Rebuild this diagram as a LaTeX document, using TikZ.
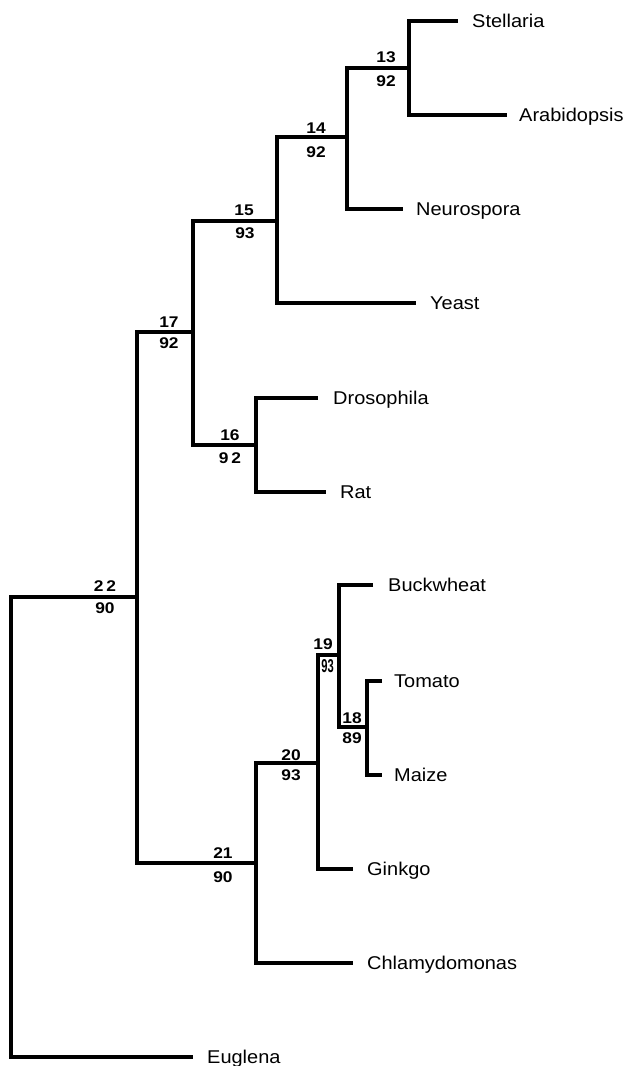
\documentclass[tikz,border=0pt]{standalone}
\usepackage{fontspec}
\setmainfont{Liberation Sans}
\newcommand\taxtext[1]{\scalebox{1.08}[1]{#1}}
\newcommand\numtext[1]{\scalebox{1.12}[1]{#1}}
\begin{document}
\begin{tikzpicture}[x=1pt,y=-1pt,
  branch/.style={line width=3.3pt, line join=miter, line cap=butt},
  taxon/.style={anchor=base west, inner sep=0pt, font=\fontsize{18.5}{20}\selectfont},
  boot/.style={anchor=center, inner sep=0pt, font=\bfseries\fontsize{15.5}{17}\selectfont}]
\useasboundingbox (0,0) rectangle (627,1066);
% leaf tips
\coordinate (tStel) at (458,21);
\coordinate (tArab) at (507,115);
\coordinate (tNeur) at (403,209);
\coordinate (tYeast) at (416,303);
\coordinate (tDros) at (318,398);
\coordinate (tRat) at (326,492);
\coordinate (tBuck) at (373,585);
\coordinate (tTom) at (382,681);
\coordinate (tMaize) at (382,775);
\coordinate (tGink) at (353,869);
\coordinate (tChla) at (353,963);
\coordinate (tEug) at (193,1057);
% internal joints
\coordinate (n13) at (409,68);
\coordinate (n14) at (347,137);
\coordinate (n15) at (277,221);
\coordinate (n16) at (256,445);
\coordinate (n17) at (193,332);
\coordinate (n18) at (367,727);
\coordinate (n19) at (339,655);
\coordinate (n20) at (318,763);
\coordinate (n21) at (256,863);
\coordinate (n22) at (137,597);
\coordinate (root) at (11,597);
% branches
\draw[branch] (tStel) -| (n13) |- (tArab);
\draw[branch] (n13) -| (n14) |- (tNeur);
\draw[branch] (n14) -| (n15) |- (tYeast);
\draw[branch] (tDros) -| (n16) |- (tRat);
\draw[branch] (n15) -| (n17) |- (n16);
\draw[branch] (tTom) -| (n18) |- (tMaize);
\draw[branch] (tBuck) -| (n19) |- (n18);
\draw[branch] (n19) -| (n20) |- (tGink);
\draw[branch] (n20) -| (n21) |- (tChla);
\draw[branch] (n17) -| (n22) |- (n21);
\draw[branch] (n22) -| (root) |- (tEug);
% taxon names
\node[taxon] (lStel) at (472,27.3) {\taxtext{Stellaria}};
\node[taxon] (lArab) at (519,121.3) {\taxtext{Arabidopsis}};
\node[taxon] (lNeur) at (416,215.3) {\taxtext{Neurospora}};
\node[taxon] (lYeast) at (430,309.3) {\taxtext{Yeast}};
\node[taxon] (lDros) at (333,404.3) {\taxtext{Drosophila}};
\node[taxon] (lRat) at (340,498.3) {\taxtext{Rat}};
\node[taxon] (lBuck) at (388,591.3) {\taxtext{Buckwheat}};
\node[taxon] (lTom) at (394,687.3) {\taxtext{Tomato}};
\node[taxon] (lMaize) at (394,781.3) {\taxtext{Maize}};
\node[taxon] (lGink) at (367,875.3) {\taxtext{Ginkgo}};
\node[taxon] (lChla) at (367,969.3) {\taxtext{Chlamydomonas}};
\node[taxon] (lEug) at (207,1063.3) {\taxtext{Euglena}};
% node numbers and bootstrap values
\node[boot] (a13) at (386,57) {\numtext{13}};
\node[boot] (b13) at (386,81.5) {\numtext{92}};
\node[boot] (a14) at (316,128) {\numtext{14}};
\node[boot] (b14) at (316,152) {\numtext{92}};
\node[boot] (a15) at (244,210) {\numtext{15}};
\node[boot] (b15) at (245,233) {\numtext{93}};
\node[boot] (a17) at (169,322) {\numtext{17}};
\node[boot] (b17) at (169,343) {\numtext{92}};
\node[boot] (a16) at (230,435.5) {\numtext{16}};
\node[boot] (b16) at (230,458.5) {\numtext{9\,2}};
\node[boot] (a22) at (105,586) {\numtext{2\,2}};
\node[boot] (b22) at (105,608) {\numtext{90}};
\node[boot] (a19) at (323,644) {\numtext{19}};
\node[boot] (b19) at (327.5,666.5) {\scalebox{0.72}[1.2]{93}};
\node[boot] (a18) at (352,718) {\numtext{18}};
\node[boot] (b18) at (352,738) {\numtext{89}};
\node[boot] (a20) at (291,755) {\numtext{20}};
\node[boot] (b20) at (291,775) {\numtext{93}};
\node[boot] (a21) at (223,853) {\numtext{21}};
\node[boot] (b21) at (223,877) {\numtext{90}};
\end{tikzpicture}
\end{document}
